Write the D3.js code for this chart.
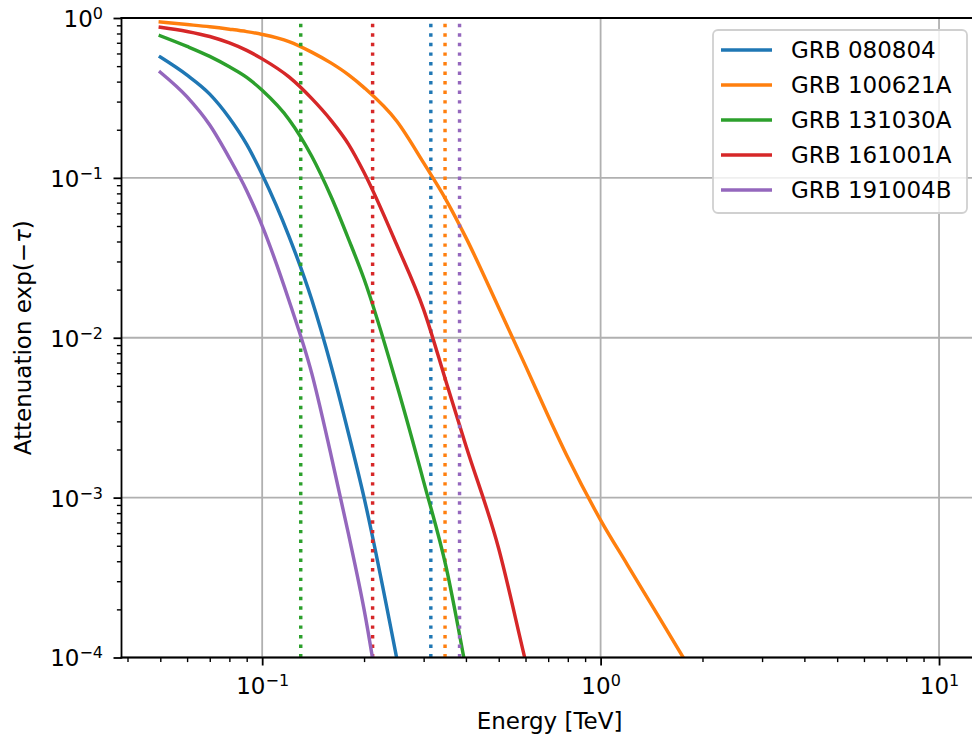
<!DOCTYPE html>
<html>
<head>
<meta charset="utf-8">
<script src="https://cdn.jsdelivr.net/npm/d3@7"></script>
<style>
body{margin:0;background:#fff}
svg{display:block}
text{font-family:"DejaVu Sans",sans-serif;fill:#000}
</style>
</head>
<body>
<svg id="chart" width="972" height="738"></svg>
<script>
// ---------------- data ----------------
const energies = [0.05, 0.06, 0.07, 0.08, 0.09, 0.1, 0.12, 0.14, 0.16, 0.18, 0.2, 0.25, 0.3, 0.35, 0.4, 0.5, 0.6, 0.7, 0.8, 1.0, 1.2, 1.5, 2.0];
const grbNames = ["GRB 080804", "GRB 100621A", "GRB 131030A", "GRB 161001A", "GRB 191004B"];
const att080804  = [0.570, 0.439, 0.334, 0.237, 0.162, 0.105, 0.0431, 0.0174, 0.00661, 0.00251, 0.00100, 0.000098, 0.0000123, null, null, null, null, null, null, null, null, null, null];
const att100621A = [0.944, 0.910, 0.881, 0.851, 0.822, 0.789, 0.712, 0.612, 0.522, 0.441, 0.367, 0.226, 0.124, 0.0724, 0.0423, 0.0154, 0.00667, 0.00324, 0.00178, 0.000724, 0.000380, 0.000174, 0.000063];
const att131030A = [0.774, 0.664, 0.575, 0.495, 0.425, 0.353, 0.232, 0.137, 0.0759, 0.0414, 0.0233, 0.00506, 0.00126, 0.000363, 0.000085, 0.0000063, null, null, null, null, null, null, null];
const att161001A = [0.875, 0.824, 0.766, 0.698, 0.627, 0.555, 0.428, 0.314, 0.228, 0.162, 0.108, 0.0380, 0.0150, 0.00525, 0.00211, 0.000479, 0.000095, 0.000025, null, null, null, null, null];
const att191004B = [0.458, 0.321, 0.214, 0.133, 0.0832, 0.0501, 0.0171, 0.00603, 0.00182, 0.000589, 0.000200, 0.0000100, null, null, null, null, null, null, null, null, null, null, null];
const thresholdEnergies = [0.315, 0.347, 0.130, 0.212, 0.383];
const colors = ["#1f77b4", "#ff7f0e", "#2ca02c", "#d62728", "#9467bd"];
const xTickExps = [-1, 0, 1];
const yTickExps = [-4, -3, -2, -1, 0];
const xLabel = "Energy [TeV]";

const seriesValues = [att080804, att100621A, att131030A, att161001A, att191004B];

// ---------------- layout ----------------
const svg = d3.select("#chart");
const L = 121.5, R = 977.6, T = 18, B = 657.5;
const x = d3.scaleLog().domain([0.0384, 13.0]).range([L, R]);
const y = d3.scaleLog().domain([1e-4, 1]).range([B, T]);

svg.append("defs").append("clipPath").attr("id", "plotclip")
  .append("rect").attr("x", L).attr("y", T).attr("width", R - L).attr("height", B - T);

const gridColor = "#b0b0b0";
const xMajor = xTickExps.map(e => Math.pow(10, e));
const yMajor = yTickExps.map(e => Math.pow(10, e));

// grid
const grid = svg.append("g");
xMajor.forEach(v => grid.append("line").attr("x1", x(v)).attr("x2", x(v)).attr("y1", T).attr("y2", B)
  .attr("stroke", gridColor).attr("stroke-width", 1.8));
yMajor.forEach(v => grid.append("line").attr("x1", L).attr("x2", R).attr("y1", y(v)).attr("y2", y(v))
  .attr("stroke", gridColor).attr("stroke-width", 1.8));

// curves and threshold lines
const plot = svg.append("g").attr("clip-path", "url(#plotclip)");
const line = d3.line().defined(d => d.v != null).x(d => x(d.e)).y(d => y(d.v)).curve(d3.curveMonotoneX);
seriesValues.forEach((vals, i) => {
  const data = energies.map((e, j) => ({e: e, v: vals[j]}));
  plot.append("path").datum(data).attr("d", line)
    .attr("fill", "none").attr("stroke", colors[i]).attr("stroke-width", 3.45)
    .attr("stroke-linejoin", "round").attr("stroke-linecap", "square");
  const xv = x(thresholdEnergies[i]);
  plot.append("line").attr("x1", xv).attr("x2", xv).attr("y1", B).attr("y2", T)
    .attr("stroke", colors[i]).attr("stroke-width", 3.45).attr("stroke-dasharray", "3.45,6.1");
});

// minor tick values
function minorTicks(lo, hi) {
  const out = [];
  for (let d = Math.floor(Math.log10(lo)); d <= Math.ceil(Math.log10(hi)); d++) {
    for (let k = 2; k <= 9; k++) {
      const v = k * Math.pow(10, d);
      if (v >= lo && v <= hi) out.push(v);
    }
  }
  return out;
}

function supLabel(textSel, exp) {
  textSel.text(null);
  textSel.append("tspan").text("10");
  textSel.append("tspan").attr("dy", -8).attr("font-size", 16).text(exp < 0 ? "\u2212" + (-exp) : String(exp));
}

// x axis
const xAxisG = svg.append("g").attr("transform", `translate(0,${B})`);
xAxisG.call(d3.axisBottom(x).tickValues(minorTicks(0.0384, 13.0)).tickSize(4.6).tickSizeOuter(0).tickFormat(() => ""));
xAxisG.selectAll(".tick line").attr("stroke-width", 1.4);
const xMajorG = svg.append("g").attr("transform", `translate(0,${B})`);
xMajorG.call(d3.axisBottom(x).tickValues(xMajor).tickSize(8).tickSizeOuter(0).tickFormat(() => ""));
xMajorG.selectAll(".tick line").attr("stroke-width", 1.8);
xMajorG.selectAll(".tick text").each(function(d, i) {
  const t = d3.select(this);
  t.attr("y", 36.5).attr("dy", null).attr("font-size", 23).attr("text-anchor", "middle").attr("fill", "#000");
  supLabel(t, xTickExps[i]);
});
[xAxisG, xMajorG].forEach(g => g.select(".domain").remove());

// y axis
const yAxisG = svg.append("g").attr("transform", `translate(${L},0)`);
yAxisG.call(d3.axisLeft(y).tickValues(minorTicks(1e-4, 1)).tickSize(4.6).tickSizeOuter(0).tickFormat(() => ""));
yAxisG.selectAll(".tick line").attr("stroke-width", 1.4);
const yMajorG = svg.append("g").attr("transform", `translate(${L},0)`);
yMajorG.call(d3.axisLeft(y).tickValues(yMajor).tickSize(8).tickSizeOuter(0).tickFormat(() => ""));
yMajorG.selectAll(".tick line").attr("stroke-width", 1.8);
yMajorG.selectAll(".tick text").each(function(d, i) {
  const t = d3.select(this);
  t.attr("x", -18.5).attr("y", 8.4).attr("dy", null).attr("font-size", 23).attr("text-anchor", "end").attr("fill", "#000");
  supLabel(t, yTickExps[i]);
});
[yAxisG, yMajorG].forEach(g => g.select(".domain").remove());

// spines
const sp = svg.append("g").attr("stroke", "#000").attr("stroke-width", 1.8).attr("stroke-linecap", "square");
sp.append("line").attr("x1", L).attr("x2", L).attr("y1", T).attr("y2", B);
sp.append("line").attr("x1", R).attr("x2", R).attr("y1", T).attr("y2", B);
sp.append("line").attr("x1", L).attr("x2", R).attr("y1", T).attr("y2", T);
sp.append("line").attr("x1", L).attr("x2", R).attr("y1", B).attr("y2", B);

// axis labels
svg.append("text").attr("x", (L + R) / 2).attr("y", 729).attr("text-anchor", "middle")
  .attr("font-size", 23).text(xLabel);
const yl = svg.append("text").attr("transform", `translate(31,${(T + B) / 2}) rotate(-90)`)
  .attr("text-anchor", "middle").attr("font-size", 23);
yl.append("tspan").text("Attenuation exp(\u2212");
yl.append("tspan").attr("font-style", "italic").text("\u03c4");
yl.append("tspan").text(")");

// legend
const lg = svg.append("g");
lg.append("rect").attr("x", 713).attr("y", 30).attr("width", 254).attr("height", 183).attr("rx", 5)
  .attr("fill", "#fff").attr("fill-opacity", 0.8).attr("stroke", "#d0d0d0").attr("stroke-width", 1.8);
grbNames.forEach((n, i) => {
  const yy = 50 + i * 35;
  lg.append("line").attr("x1", 721).attr("x2", 772).attr("y1", yy).attr("y2", yy)
    .attr("stroke", colors[i]).attr("stroke-width", 3.45);
  lg.append("text").attr("x", 791).attr("y", yy + 8.3).attr("font-size", 23).text(n);
});
</script>
</body>
</html>
